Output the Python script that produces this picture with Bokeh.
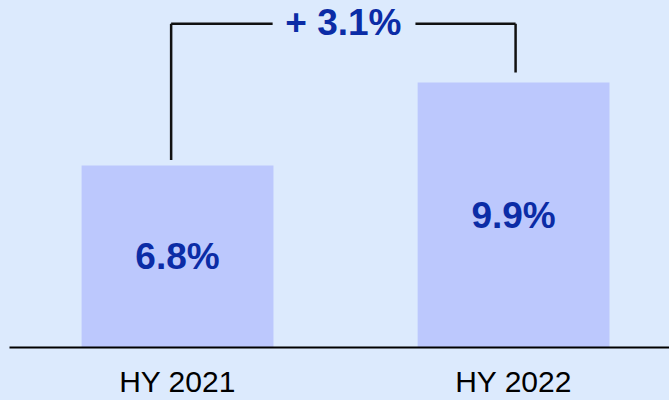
from bokeh.plotting import figure
from bokeh.models import Range1d, FixedTicker, ColumnDataSource
from bokeh.core.properties import value
from bokeh.embed import file_html
from bokeh.resources import INLINE

categories = ["HY 2021", "HY 2022"]
values = [6.8, 9.9]
labels = ["6.8%", "9.9%"]
change_label = "+ 3.1%"

BG = "#dceafd"
BAR = "#bcc8fd"
TXT = "#0b2ca6"
FONT = "Liberation Sans"

xs = list(range(len(categories)))
p = figure(width=669, height=400, output_backend="svg", toolbar_location=None,
           x_range=Range1d(-0.5, 1.464), y_range=Range1d(0, 12.967),
           min_border_left=9, min_border_right=0, min_border_top=0, min_border_bottom=53)
p.background_fill_color = BG
p.border_fill_color = BG
p.outline_line_color = None
p.grid.visible = False
p.yaxis.visible = False

src = ColumnDataSource(dict(x=xs, top=values, mid=[v / 2 for v in values], lab=labels))
p.vbar(x="x", top="top", width=0.571, source=src, fill_color=BAR, line_color=None)
p.text(x="x", y="mid", text="lab", source=src, text_font=value(FONT), text_font_style="bold",
       text_font_size="37px", text_color=TXT, text_align="center", text_baseline="middle")

# bracket
yb = 12.10
xl = xs[0] - 0.019
xr = xs[1] + 0.006
p.segment(x0=[xl, xl, 0.708, xr], y0=[values[0] + 0.21, yb, yb, yb],
          x1=[xl, 0.283, xr, xr], y1=[yb, yb, yb, values[1] + 0.38],
          line_color="#111111", line_width=2.5)
p.text(x=[(xl + xr) / 2], y=[yb + 0.05], text=[change_label], text_font=value(FONT),
       text_font_style="bold", text_font_size="37px", text_color=TXT,
       text_align="center", text_baseline="middle")

ax = p.xaxis[0]
ax.ticker = FixedTicker(ticks=xs)
ax.major_label_overrides = {i: c for i, c in enumerate(categories)}
ax.axis_line_color = "#000000"
ax.axis_line_width = 2
ax.major_tick_line_color = None
ax.minor_tick_line_color = None
ax.major_label_text_font = FONT
ax.major_label_text_font_size = "30px"
ax.major_label_text_color = "#000000"
ax.major_label_standoff = 11

html = file_html(p, INLINE)
html = html.replace("<head>", "<head><style>body{background:%s;}</style>" % BG, 1)
open("out.html", "w").write(html)
